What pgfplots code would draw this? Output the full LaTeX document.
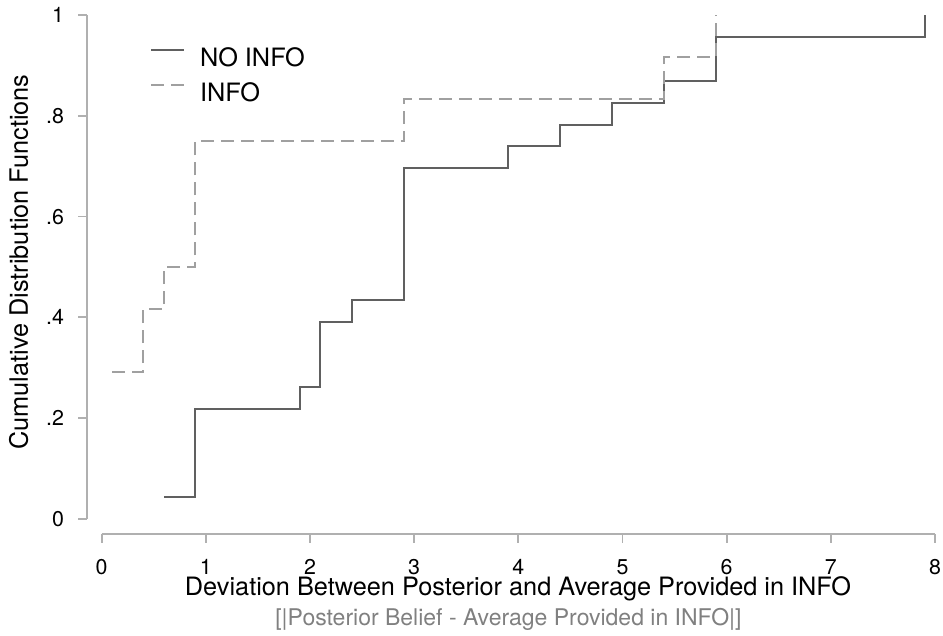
\documentclass[border=0pt]{standalone}
\usepackage{fontspec}
\setmainfont{TeX Gyre Heros}
\usepackage{pgfplots}
\usepackage{pgfplotstable}
\pgfplotsset{compat=1.18}
\definecolor{noinfo}{HTML}{606060}
\definecolor{info}{HTML}{A0A0A0}
\definecolor{axisgray}{HTML}{B0B0B0}
\definecolor{subgray}{HTML}{808080}
\pgfplotstableread{
x y
0.6 0.0435
0.9 0.2174
1.9 0.2609
2.1 0.3913
2.4 0.4348
2.9 0.6957
3.9 0.7391
4.4 0.7826
4.9 0.8261
5.4 0.8696
5.9 0.9565
7.9 1
}\noinfotab
\pgfplotstableread{
x y
0.1 0.2917
0.4 0.4167
0.6 0.5
0.9 0.75
2.9 0.8333
5.4 0.9167
5.9 1
}\infotab
\begin{document}
\begin{tikzpicture}
\useasboundingbox (-43.5pt,-51pt) rectangle (428pt,267pt);
\begin{axis}[
  scale only axis, width=424pt, height=259.5pt,
  xmin=-0.141, xmax=8, ymin=-0.0298, ymax=1,
  clip=false,
  axis x line*=bottom, axis y line*=left,
  x axis line style={-, draw=axisgray, line width=0.9pt, shorten <=7.35pt},
  y axis line style={-, draw=axisgray, line width=0.9pt, shorten <=7.5pt},
  tick align=outside,
  major tick length=4.3pt,
  major tick style={draw=axisgray, line width=0.9pt},
  xtick={0,1,2,3,4,5,6,7,8},
  ytick={0,0.2,0.4,0.6,0.8,1},
  yticklabels={0,.2,.4,.6,.8,1},
  /pgf/number format/assume math mode=true,
  ticklabel style={font=\fontsize{10.7}{12}\selectfont, text=black},
  xticklabel style={anchor=base, inner sep=0pt, yshift=-15.85pt},
  yticklabel style={anchor=east, inner sep=0pt, xshift=-7pt},
  xlabel={Deviation Between Posterior and Average Provided in INFO},
  xlabel style={at={(axis description cs:0.5083,0)}, anchor=base, inner sep=0pt, yshift=-31pt, font=\fontsize{12.65}{14}\selectfont},
  ylabel={Cumulative Distribution Functions},
  ylabel style={at={(axis description cs:-0.0696,0.524)}, anchor=base, inner sep=0pt, font=\fontsize{12.65}{14}\selectfont},
  legend style={draw=none, fill=none, at={(axis description cs:0.0743,0.9364)}, anchor=north west,
    inner sep=0pt, outer sep=0pt, row sep=6.6pt, column sep=7.5pt,
    font=\fontsize{12.65}{14}\selectfont, nodes={inner sep=0pt}},
  legend cell align=left,
  legend image code/.code={\draw[#1] (0pt,4.5pt) -- (16.5pt,4.5pt);},
]
\addplot[const plot, color=noinfo, line width=1pt] table[x=x,y=y] {\noinfotab};
\addlegendentry{NO INFO}
\addplot[const plot, color=info, line width=1pt, dash pattern=on 6.5pt off 3.5pt] table[x=x,y=y] {\infotab};
\addlegendentry{INFO}
\node[anchor=base, inner sep=0pt, text=subgray, font=\fontsize{11.5}{13}\selectfont, yshift=-46pt] at (axis description cs:0.497,0) {[\textbar Posterior Belief - Average Provided in INFO\textbar]};
\end{axis}
\end{tikzpicture}
\end{document}
